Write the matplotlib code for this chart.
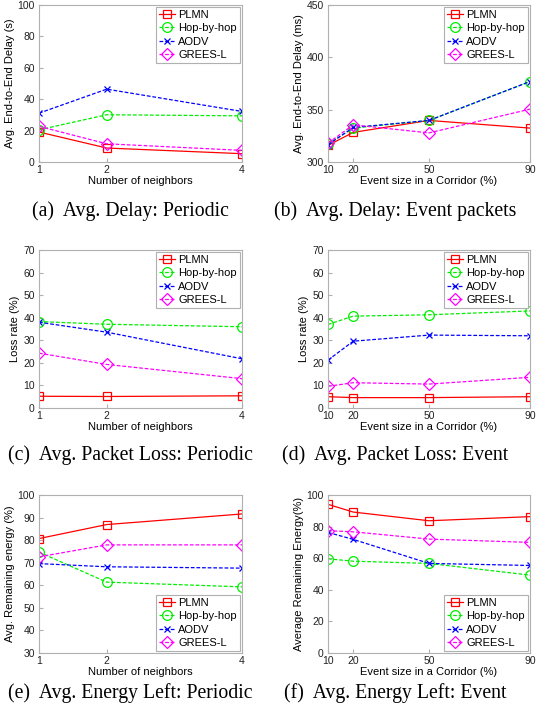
import numpy as np
import matplotlib.pyplot as plt

# %% data
neighbors = [1, 2, 4]
event_size = [10, 20, 50, 90]
labels = ["PLMN", "Hop-by-hop", "AODV", "GREES-L"]

# (a) avg. delay, periodic (s)
delay_per_plmn = [19.1, 8.9, 5.3]
delay_per_hop = [20.5, 30.1, 29.4]
delay_per_aodv = [31.1, 46.4, 32.2]
delay_per_grees = [22.7, 11.6, 7.4]

# (b) avg. delay, event packets (ms)
delay_evt_plmn = [315.9, 328.3, 339.7, 332.4]
delay_evt_hop = [317.2, 332.4, 339.7, 376.9]
delay_evt_aodv = [316.5, 333.0, 339.7, 376.9]
delay_evt_grees = [318.0, 335.5, 327.8, 350.5]

# (c) packet loss, periodic (%)
loss_per_plmn = [5.2, 5.1, 5.4]
loss_per_hop = [38.3, 37.1, 36.0]
loss_per_aodv = [38.0, 33.6, 21.8]
loss_per_grees = [24.3, 19.3, 13.0]

# (d) packet loss, event (%)
loss_evt_plmn = [5.0, 4.6, 4.6, 5.0]
loss_evt_hop = [37.0, 40.7, 41.3, 43.0]
loss_evt_aodv = [21.2, 29.6, 32.3, 32.0]
loss_evt_grees = [9.6, 11.2, 10.6, 13.6]

# (e) remaining energy, periodic (%)
en_per_plmn = [80.7, 86.9, 91.6]
en_per_hop = [74.7, 61.4, 59.3]
en_per_aodv = [69.6, 68.2, 67.6]
en_per_grees = [72.6, 77.9, 77.9]

# (f) remaining energy, event (%)
en_evt_plmn = [94.1, 89.2, 83.7, 86.3]
en_evt_hop = [59.6, 58.1, 56.7, 49.3]
en_evt_aodv = [76.3, 71.9, 56.7, 55.4]
en_evt_grees = [77.4, 76.7, 72.1, 70.0]

colors = ["#FF0000", "#00EE00", "#0000FF", "#FF00FF"]
markers = ["s", "o", "x", "D"]
styles = ["-", (0, (3, 1.5)), (0, (3, 1.5)), (0, (3, 1.5))]
msizes = [6, 7, 5, 6]

plt.rcParams["font.family"] = ["Liberation Sans", "DejaVu Sans"]
plt.rcParams["font.size"] = 7.5

fig = plt.figure(figsize=(5.56, 7.18), dpi=100)

W = 556.0
H = 718.0


def make_ax(x0, x1, y0, y1):
    return fig.add_axes([x0 / W, 1 - y1 / H, (x1 - x0) / W, (y1 - y0) / H])


def draw(ax, x, series, ylim, yticks, ylabel, xlabel, legend_loc):
    for i, ys in enumerate(series):
        ax.plot(x, ys, color=colors[i], linestyle=styles[i], marker=markers[i],
                markersize=msizes[i], markerfacecolor="none", markeredgewidth=0.9,
                linewidth=0.9, label=labels[i])
    ax.set_xlim(x[0], x[-1])
    ax.set_xticks(x)
    ax.set_ylim(*ylim)
    ax.set_yticks(yticks)
    ax.set_ylabel(ylabel, labelpad=2, fontsize=8)
    ax.set_xlabel(xlabel, labelpad=1, fontsize=8)
    for s in ax.spines.values():
        s.set_color("#b0b0b0")
        s.set_linewidth(0.8)
    ax.tick_params(direction="in", length=3, color="#b0b0b0", labelcolor="#222222", pad=2)
    ax.tick_params(axis="y", pad=3)
    leg = ax.legend(loc=legend_loc, fontsize=8, borderaxespad=0.15, fancybox=False,
                    labelspacing=0.3, handlelength=1.4, handletextpad=0.3,
                    borderpad=0.3, framealpha=1)
    leg.get_frame().set_edgecolor("#b0b0b0")
    leg.get_frame().set_linewidth(0.8)


ax_a = make_ax(39, 242, 5, 162)
draw(ax_a, neighbors, [delay_per_plmn, delay_per_hop, delay_per_aodv, delay_per_grees],
     (0, 100), np.arange(0, 101, 20), "Avg. End-to-End Delay (s)", "Number of neighbors", "upper right")

ax_b = make_ax(328, 530, 5, 162)
draw(ax_b, event_size, [delay_evt_plmn, delay_evt_hop, delay_evt_aodv, delay_evt_grees],
     (300, 450), np.arange(300, 451, 50), "Avg. End-to-End Delay (ms)", "Event size in a Corridor (%)", "upper right")

ax_c = make_ax(39, 242, 250, 408)
draw(ax_c, neighbors, [loss_per_plmn, loss_per_hop, loss_per_aodv, loss_per_grees],
     (0, 70), np.arange(0, 71, 10), "Loss rate (%)", "Number of neighbors", "upper right")

ax_d = make_ax(328, 530, 250, 408)
draw(ax_d, event_size, [loss_evt_plmn, loss_evt_hop, loss_evt_aodv, loss_evt_grees],
     (0, 70), np.arange(0, 71, 10), "Loss rate (%)", "Event size in a Corridor (%)", "upper right")

ax_e = make_ax(39, 242, 495, 653)
draw(ax_e, neighbors, [en_per_plmn, en_per_hop, en_per_aodv, en_per_grees],
     (30, 100), np.arange(30, 101, 10), "Avg. Remaining energy (%)", "Number of neighbors", "lower right")

ax_f = make_ax(328, 530, 495, 653)
draw(ax_f, event_size, [en_evt_plmn, en_evt_hop, en_evt_aodv, en_evt_grees],
     (0, 100), np.arange(0, 101, 20), "Average Remaining Energy(%)", "Event size in a Corridor (%)", "lower right")

captions = [
    ("(a)  Avg. Delay: Periodic", 130, 211),
    ("(b)  Avg. Delay: Event packets", 395, 211),
    ("(c)  Avg. Packet Loss: Periodic", 130, 455),
    ("(d)  Avg. Packet Loss: Event", 395, 455),
    ("(e)  Avg. Energy Left: Periodic", 130, 693),
    ("(f)  Avg. Energy Left: Event", 395, 693),
]
for txt, cx, cy in captions:
    fig.text(cx / W, 1 - cy / H, txt, ha="center", va="center",
             family=["Liberation Serif", "DejaVu Serif"], fontsize=14.2)

plt.savefig("out.png", dpi=100)
plt.close()
